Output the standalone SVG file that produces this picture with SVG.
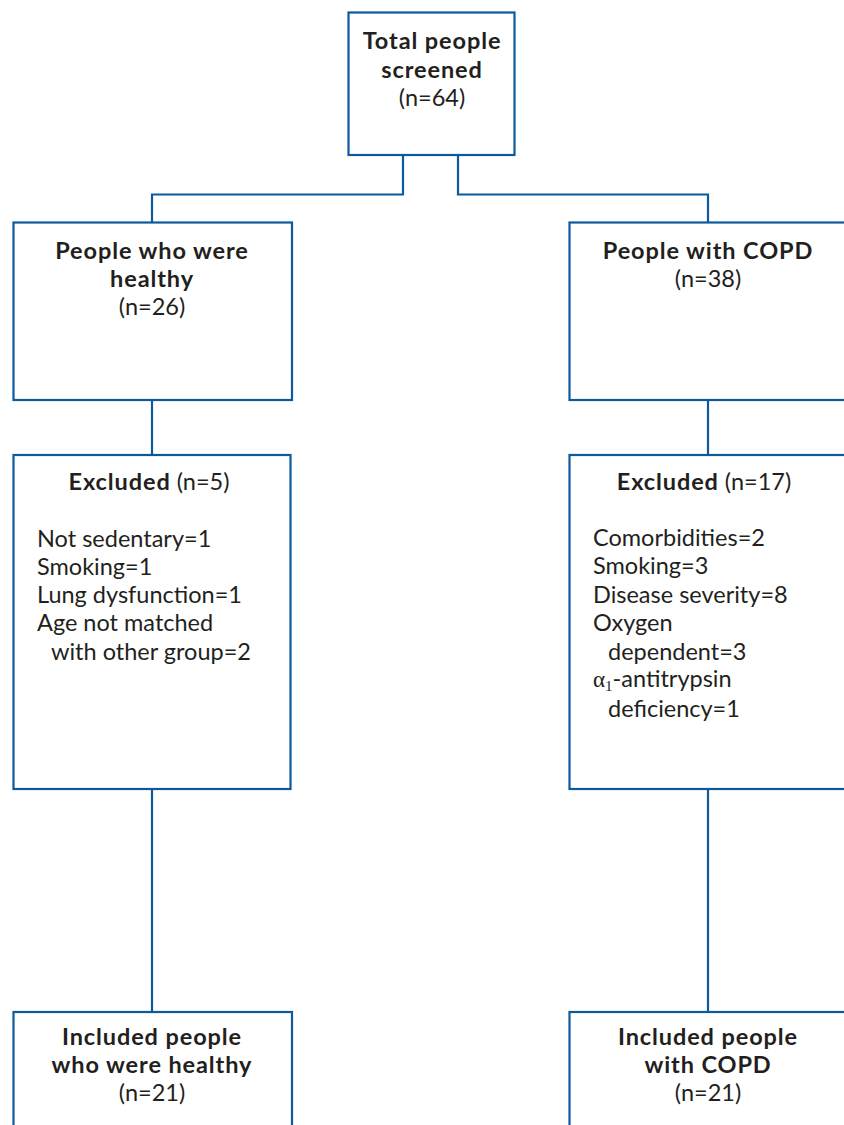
<svg xmlns="http://www.w3.org/2000/svg" width="844" height="1125" viewBox="0 0 844 1125">
<style>
.box{fill:#fff;stroke:#0a5a9c;stroke-width:2.2}
.ln{fill:none;stroke:#0a5a9c;stroke-width:2.2}
text{font-family:Lato,"Open Sans",sans-serif;font-size:23.5px;fill:#231f20}
.c{text-anchor:middle}
.b{font-weight:bold;font-size:23.5px;letter-spacing:0.9px}
.g{font-family:"Liberation Serif",serif}
</style>
<rect width="844" height="1125" fill="#fff"/>
<g id="connectors">
<path class="ln" d="M403 155 V194.5 H152 V222.5"/>
<path class="ln" d="M458 155 V194.5 H708 V222.5"/>
<path class="ln" d="M152 400 V455"/>
<path class="ln" d="M708 400 V455"/>
<path class="ln" d="M152 789 V1012"/>
<path class="ln" d="M708 789 V1012"/>
</g>
<g id="total">
<rect class="box" x="348.5" y="12.5" width="166" height="142.5"/>
<text class="c b" x="432" y="49">Total people</text>
<text class="c b" x="432" y="78">screened</text>
<text class="c" x="432" y="106">(n=64)</text>
</g>
<g id="healthy">
<rect class="box" x="13.5" y="222.5" width="278.5" height="177.5"/>
<text class="c b" x="152" y="259">People who were</text>
<text class="c b" x="152" y="287">healthy</text>
<text class="c" x="152" y="315">(n=26)</text>
</g>
<g id="copd">
<rect class="box" x="569.5" y="222.5" width="278" height="177.5"/>
<text class="c b" x="708" y="259">People with COPD</text>
<text class="c" x="708" y="287">(n=38)</text>
</g>
<g id="excluded-healthy">
<rect class="box" x="13.5" y="455" width="277" height="334"/>
<text class="c" x="149" y="490"><tspan class="b">Excluded</tspan> (n=5)</text>
<text x="37" y="547">Not sedentary=1</text>
<text x="37" y="575">Smoking=1</text>
<text x="37" y="603">Lung dysfunction=1</text>
<text x="37" y="631">Age not matched</text>
<text x="51" y="660">with other group=2</text>
</g>
<g id="excluded-copd">
<rect class="box" x="569.5" y="455" width="278" height="334"/>
<text class="c" x="704" y="490"><tspan class="b">Excluded</tspan> (n=17)</text>
<text x="593" y="546">Comorbidities=2</text>
<text x="593" y="574">Smoking=3</text>
<text x="593" y="603">Disease severity=8</text>
<text x="593" y="631">Oxygen</text>
<text x="608" y="660">dependent=3</text>
<text x="593" y="687"><tspan class="g" font-size="23">α</tspan><tspan class="g" font-size="15" dy="3.5">1</tspan><tspan dy="-3.5">-antitrypsin</tspan></text>
<text x="608" y="717">deficiency=1</text>
</g>
<g id="included-healthy">
<rect class="box" x="13.5" y="1012" width="278.5" height="130"/>
<text class="c b" x="152" y="1045">Included people</text>
<text class="c b" x="152" y="1073">who were healthy</text>
<text class="c" x="152" y="1101">(n=21)</text>
</g>
<g id="included-copd">
<rect class="box" x="569.5" y="1012" width="278" height="130"/>
<text class="c b" x="708" y="1045">Included people</text>
<text class="c b" x="708" y="1073">with COPD</text>
<text class="c" x="708" y="1101">(n=21)</text>
</g>
</svg>
